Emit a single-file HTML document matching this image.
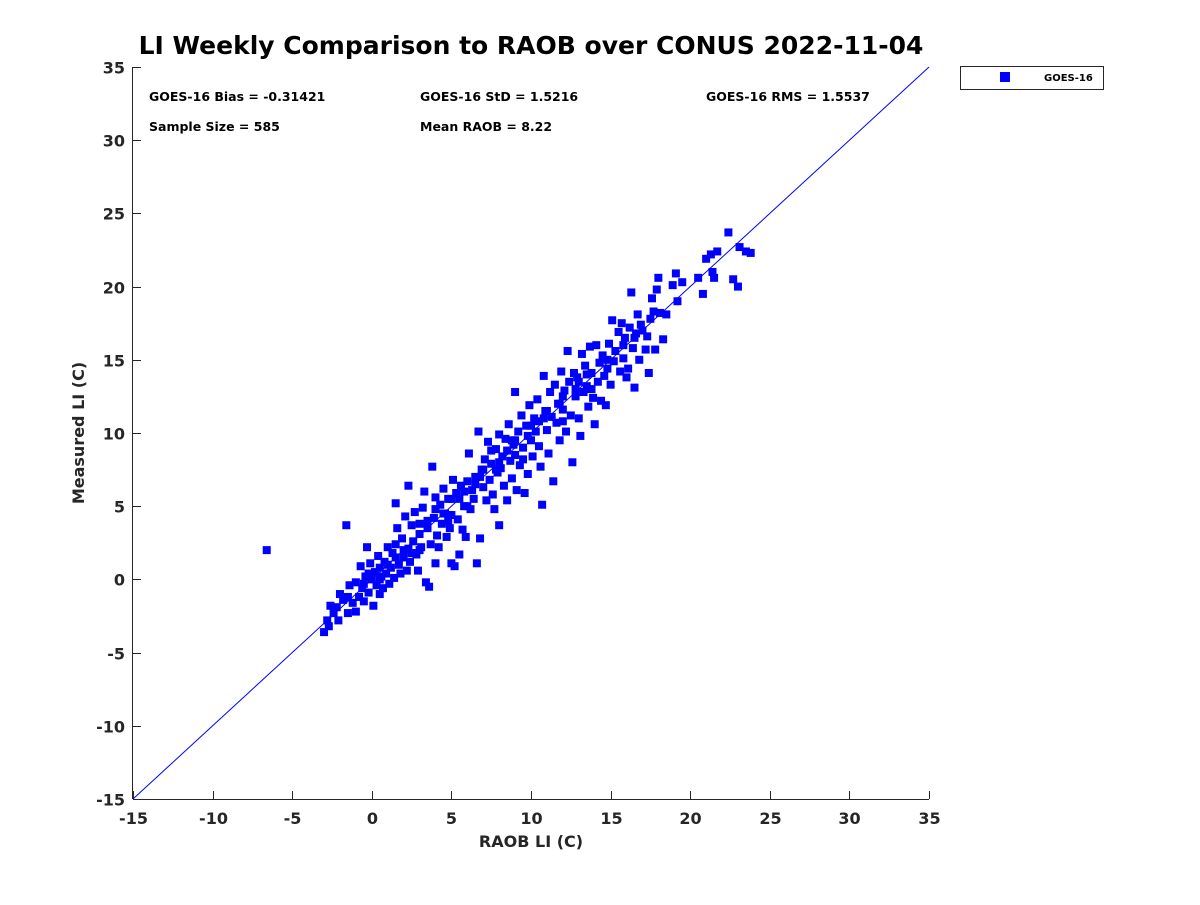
<!DOCTYPE html>
<html><head><meta charset="utf-8"><style>
body{margin:0;background:#fff;}
svg text{font-family:"DejaVu Sans","Liberation Sans",sans-serif;font-weight:bold;}
</style></head><body>
<svg id="chart" width="1200" height="900">
<text x="531" y="54" text-anchor="middle" font-size="25" fill="#000">LI Weekly Comparison to RAOB over CONUS 2022-11-04</text>
<rect x="133" y="67" width="796" height="732" fill="none" stroke="none"/>
<g id="axes"></g>
<g id="marks"></g>
<text x="149" y="101" font-size="12.5">GOES-16 Bias = -0.31421</text>
<text x="420" y="101" font-size="12.5">GOES-16 StD = 1.5216</text>
<text x="706" y="101" font-size="12.5">GOES-16 RMS = 1.5537</text>
<text x="149" y="131" font-size="12.5">Sample Size = 585</text>
<text x="420" y="131" font-size="12.5">Mean RAOB = 8.22</text>
<text x="531" y="847" text-anchor="middle" font-size="16" fill="#262626">RAOB LI (C)</text>
<text x="84" y="433" text-anchor="middle" font-size="16" fill="#262626" transform="rotate(-90 84 433)">Measured LI (C)</text>
<g>
<rect x="960.5" y="66.5" width="143" height="23" fill="#fff" stroke="#262626"/>
<rect x="1000" y="72" width="10" height="10" fill="#0000ff"/>
<text x="1044" y="81" font-size="10">GOES-16</text>
</g>
</svg>
<script>
const xTicks=[-15,-10,-5,0,5,10,15,20,25,30,35];
const yTicks=[-15,-10,-5,0,5,10,15,20,25,30,35];
const pts=[[-3,-3.6],[-2.8,-2.8],[-2.7,-3.2],[-2.6,-1.8],[-2.4,-2.3],[-2.2,-1.9],[-2.1,-2.8],[-2,-1],[-1.8,-1.4],[-1.5,-2.3],[-1.4,-0.4],[-1.2,-1.6],[-1,-0.2],[-1,-2.2],[-0.8,-1.2],[-0.7,0.9],[-0.6,-0.6],[-0.5,-1.5],[-0.4,0.2],[-0.3,2.2],[-0.2,-0.9],[-0.1,1.1],[0,0],[0.1,-1.8],[0.2,0.5],[0.3,-0.4],[0.4,1.6],[0.5,-1],[0.6,0.2],[0.7,-0.6],[0.8,1.2],[0.9,0.4],[1,2.2],[1.1,-0.3],[1.2,0.8],[1.3,1.8],[1.4,0.1],[1.5,2.4],[1.5,5.2],[1.6,3.5],[1.7,1],[1.8,0.4],[1.9,2.8],[2,1.5],[2.1,4.3],[2.2,0.6],[2.3,6.4],[2.3,2.1],[2.4,1.2],[2.5,3.7],[2.6,2.6],[2.7,4.6],[2.8,1.7],[2.9,0.6],[3,3.1],[3.1,2.2],[3.2,4.9],[3.3,6],[3.4,-0.2],[3.5,3.5],[3.6,-0.5],[3.7,2.4],[3.8,7.7],[3.9,4.2],[4,1.1],[4,5.6],[4.1,3],[4.2,2.2],[4.3,5.1],[4.4,3.8],[4.5,6.2],[4.6,4.5],[4.7,2.9],[4.8,5.5],[4.9,3.5],[5,1.1],[5,4.4],[5.1,6.8],[5.2,0.9],[5.3,5.9],[5.4,4.1],[5.5,1.7],[5.6,6.4],[5.7,3.4],[5.8,5],[5.9,2.9],[6,6.7],[6.1,8.6],[6.2,4.8],[6.3,6.1],[6.4,5.5],[6.5,7],[6.6,1.1],[6.7,10.1],[6.8,2.8],[6.9,7.5],[7,6.3],[7.1,8.2],[7.2,5.4],[7.3,9.4],[7.4,6.8],[7.5,7.9],[7.6,5.8],[7.7,4.8],[7.8,8.9],[7.9,7.3],[8,3.7],[8,9.9],[8.1,7.6],[8.2,8.4],[8.3,6.4],[8.4,9.6],[8.5,5.4],[8.6,10.6],[8.7,8.1],[8.8,6.9],[8.9,9.2],[9,12.8],[9,8.5],[9.1,6.1],[9.2,10.1],[9.3,7.8],[9.4,11.2],[9.5,9],[9.6,5.9],[9.7,10.5],[9.8,7.2],[9.9,11.9],[10,9.5],[10.1,8.4],[10.2,11],[10.3,10.1],[10.4,12.3],[10.5,9.1],[10.6,7.7],[10.7,5.1],[10.8,13.9],[10.9,11.5],[11,10.2],[11.1,8.6],[11.2,12.8],[11.3,11.1],[11.4,6.7],[11.5,13.3],[11.6,10.7],[11.7,12],[11.8,9.5],[11.9,14.2],[12,11.6],[12.1,12.9],[12.2,10.1],[12.3,15.6],[12.4,13.5],[12.5,11.2],[12.6,8],[12.7,14.1],[12.8,12.5],[12.9,13.8],[13,11],[13.1,9.8],[13.2,15.4],[13.3,12.8],[13.4,14.6],[13.5,13.2],[13.6,11.8],[13.7,15.9],[13.8,14.1],[13.9,12.4],[14,10.6],[14.1,16],[14.2,13.5],[14.3,14.8],[14.4,12.2],[14.5,15.3],[14.6,13.9],[14.7,11.9],[14.8,14.4],[14.9,16.1],[15,13.3],[15.1,17.7],[15.2,14.9],[15.3,15.6],[15.5,16.9],[15.6,14.2],[15.7,17.5],[15.8,15.1],[15.9,16.5],[16,13.8],[16.1,14.4],[16.2,17.2],[16.3,19.6],[16.4,15.8],[16.5,13.1],[16.6,16.8],[16.7,18.1],[16.8,15],[16.9,17.4],[17.2,15.7],[17.3,16.6],[17.4,14.1],[17.5,17.8],[17.6,19.2],[17.7,18.3],[17.8,15.7],[17.9,19.8],[18,20.6],[18.1,18.2],[18.3,16.4],[18.5,18.1],[18.9,20.1],[19.1,20.9],[19.2,19],[19.5,20.3],[20.5,20.6],[20.8,19.5],[21,21.9],[21.3,22.2],[21.4,21],[21.5,20.6],[21.7,22.4],[22.4,23.7],[22.7,20.5],[23,20],[23.1,22.7],[23.5,22.4],[23.8,22.3],[-6.6,2],[-1.6,3.7],[5.5,5.5],[6.5,6.5],[7,7.5],[8,8],[9,9.5],[10,10.5],[11,11.5],[12,12.5],[13,13.5],[4.5,4.5],[3,2],[2,2],[1,1],[0.5,0.8],[-0.2,0.4],[3.5,4],[4.8,4],[5.8,6],[6.8,7],[7.8,7.5],[8.8,9.5],[9.8,9.8],[10.8,11],[11.8,12],[12.8,13],[13.8,13],[14.8,15],[15.8,16],[16.5,16.5],[17,17],[9.5,8.2],[10.5,10.8],[12,10.8],[13.5,14],[8.5,8.8],[7.5,8.8],[6,5],[5,5.5],[4,4.8],[3,3.8],[2.5,1.8],[1.5,1.5],[0.5,0],[-0.5,-0.3],[-1.5,-1.2]];
const NS="http://www.w3.org/2000/svg";
const X0=133,X1=929,Y0=799,Y1=67,DMIN=-15,DMAX=35;
function sx(v){return X0+(v-DMIN)/(DMAX-DMIN)*(X1-X0);}
function sy(v){return Y0-(v-DMIN)/(DMAX-DMIN)*(Y0-Y1);}
function mk(t,a){const e=document.createElementNS(NS,t);for(const k in a)e.setAttribute(k,a[k]);return e;}
const axes=document.getElementById('axes'),marks=document.getElementById('marks');
let xa=mk('line',{x1:X0,y1:Y0+0.5,x2:X1,y2:Y0+0.5,stroke:'#262626'});


axes.appendChild(xa);
let ya=mk('line',{x1:X0-0.5,y1:Y0,x2:X0-0.5,y2:Y1,stroke:'#262626'});


axes.appendChild(ya);
xTicks.forEach(v=>{
 const x=Math.round(sx(v))+0.5;
 axes.appendChild(mk('line',{x1:x,y1:Y0,x2:x,y2:Y0-8,stroke:'#262626'}));
 const t=mk('text',{x:x,y:Y0+25,'text-anchor':'middle','font-size':16,fill:'#262626'});
 t.textContent=v;
 
 
 axes.appendChild(t);
});
yTicks.forEach(v=>{
 const y=Math.round(sy(v))+0.5;
 axes.appendChild(mk('line',{x1:X0,y1:y,x2:X0+8,y2:y,stroke:'#262626'}));
 const t=mk('text',{x:X0-8,y:y+6,'text-anchor':'end','font-size':16,fill:'#262626'});
 t.textContent=v;
 
 
 axes.appendChild(t);
});
pts.forEach(p=>{
 const r=mk('rect',{x:sx(p[0])-4,y:sy(p[1])-4,width:8,height:8,fill:'#0000ff'});
 
 
 marks.appendChild(r);
});
const l=mk('line',{x1:sx(DMIN),y1:sy(DMIN),x2:sx(DMAX),y2:sy(DMAX),stroke:'#0000ff','stroke-width':1});


marks.appendChild(l);
</script>
</body></html>
